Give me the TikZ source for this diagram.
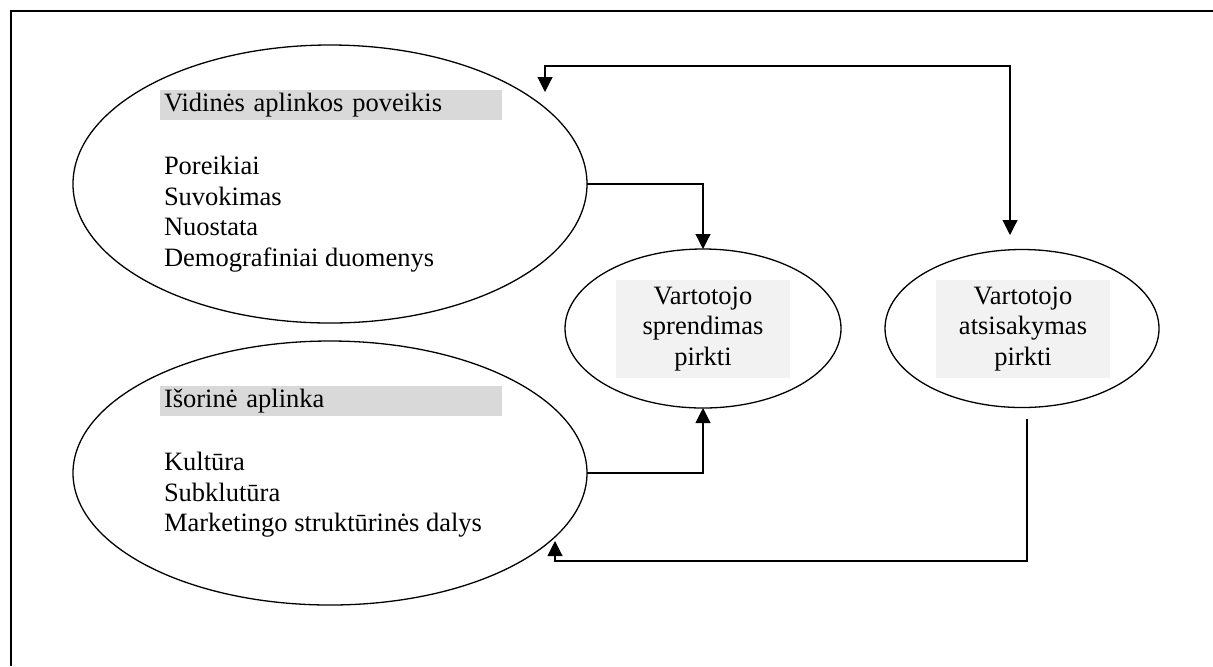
\documentclass[tikz,border=0pt]{standalone}
\usepackage{fontspec}
\setmainfont{Liberation Serif}
\usetikzlibrary{shapes.geometric, arrows.meta, positioning}
\definecolor{hdrgray}{HTML}{D9D9D9}
\definecolor{boxgray}{HTML}{F2F2F2}

\begin{document}
\begin{tikzpicture}[
  x=0.5pt, y=-0.5pt,
  font=\fontsize{13.25}{15.25}\selectfont,
  bubble/.style={ellipse, draw, line width=0.65pt, inner sep=0pt, outer sep=0pt},
  header/.style={rectangle, fill=hdrgray, inner ysep=0pt, inner xsep=2pt, text width=167pt, minimum height=15pt, align=left},
  titlebox/.style={rectangle, fill=boxgray, inner sep=0pt, minimum width=87pt, minimum height=49pt, align=center},
  itemlist/.style={anchor=north west, inner sep=0pt, align=left},
  arrow/.style={-{Triangle[length=7.5pt, width=7.5pt]}, line width=0.55pt},
  biarrow/.style={{Triangle[length=7.5pt, width=7.5pt]}-{Triangle[length=7.5pt, width=7.5pt]}, line width=0.55pt}
]
  \useasboundingbox (0,0) rectangle (1213,666);

  % page frame
  \draw[line width=1pt] (11,666) |- (1213,11);

  % left bubbles
  \node[bubble, minimum width=257pt, minimum height=139pt] (inner) at (330,184) {};
  \node[header] (innerhead) at (331,105) {Vidinės aplinkos poveikis};
  \node[itemlist] (innerlist) at (163.6,156) {Poreikiai\\Suvokimas\\Nuostata\\Demografiniai duomenys};

  \node[bubble, minimum width=257pt, minimum height=132pt] (outer) at (330,473) {};
  \node[header] (outerhead) at (331,401) {Išorinė aplinka};
  \node[itemlist] (outerlist) at (163.6,452) {Kultūra\\Subklutūra\\Marketingo struktūrinės dalys};

  % decisions
  \node[bubble, minimum width=138pt, minimum height=79.5pt] (decide) at (703,328.5) {};
  \node[titlebox] (decidetext) at (703,329) {Vartotojo\\sprendimas\\pirkti};

  \node[bubble, minimum width=137pt, minimum height=79pt] (refuse) at (1022,328.5) {};
  \node[titlebox] (refusetext) at (1023,329) {Vartotojo\\atsisakymas\\pirkti};

  % loose ends of the feedback lines
  \coordinate (innerback) at (545,92);
  \coordinate (refusetop) at (1010,235);
  \coordinate (refusefoot) at (1027,419);
  \coordinate (outerback) at (555,541);

  \draw[arrow] (inner.east) -| (decide.north);
  \draw[arrow] (outer.east) -| (decide.south);
  \draw[biarrow] (innerback) -- ++(0,-26) -| (refusetop);
  \draw[arrow] (refusefoot) -- ++(0,142) -| (outerback);

\end{tikzpicture}
\end{document}
